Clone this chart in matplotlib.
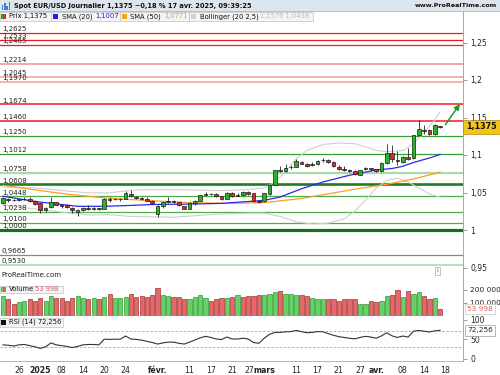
import numpy as np
import pandas as pd
import matplotlib
matplotlib.use("Agg")
import matplotlib.pyplot as plt
import matplotlib.transforms as mtransforms
from matplotlib.patches import Rectangle
from matplotlib.lines import Line2D

plt.rcParams['font.family'] = ['DejaVu Sans']

# ---------------- data ----------------
holidays = ["2024-12-25", "2025-01-01"]
all_days = [d.strftime("%Y-%m-%d") for d in pd.bdate_range("2024-12-20", "2025-04-18")]
days = [d for d in all_days if d not in holidays]   # last entry (Apr 18) has no candle

opens = [1.0355, 1.0418, 1.0402, 1.0395, 1.0410, 1.0415, 1.0392, 1.0355, 1.0271, 1.0308,
         1.0369, 1.0336, 1.0327, 1.0299, 1.0238, 1.0271, 1.0290, 1.0285, 1.0294, 1.0285,
         1.0411, 1.0415, 1.0408, 1.0415, 1.0482, 1.0440, 1.0428, 1.0418, 1.0392, 1.0215,
         1.0317, 1.0378, 1.0385, 1.0369, 1.0317, 1.0285, 1.0364, 1.0392, 1.0467, 1.0485,
         1.0483, 1.0448, 1.0415, 1.0487, 1.0458, 1.0468, 1.0500, 1.0487, 1.0387, 1.0387,
         1.0477, 1.0600, 1.0795, 1.0781, 1.0835, 1.0840, 1.0903, 1.0885, 1.0865, 1.0880,
         1.0928, 1.0930, 1.0903, 1.0845, 1.0810, 1.0801, 1.0780, 1.0740, 1.0810, 1.0823,
         1.0810, 1.0788, 1.0889, 1.1021, 1.0935, 1.0903, 1.0977, 1.0955, 1.1262, 1.1335,
         1.1328, 1.1284, 1.1390]
highs = [1.0443, 1.0428, 1.0418, 1.0420, 1.0440, 1.0435, 1.0400, 1.0365, 1.0305, 1.0436,
         1.0380, 1.0345, 1.0335, 1.0305, 1.0280, 1.0310, 1.0330, 1.0305, 1.0300, 1.0425,
         1.0435, 1.0430, 1.0425, 1.0520, 1.0530, 1.0450, 1.0440, 1.0440, 1.0400, 1.0330,
         1.0375, 1.0440, 1.0395, 1.0375, 1.0325, 1.0370, 1.0400, 1.0470, 1.0505, 1.0500,
         1.0490, 1.0455, 1.0505, 1.0505, 1.0490, 1.0515, 1.0520, 1.0495, 1.0405, 1.0495,
         1.0615, 1.0800, 1.0850, 1.0880, 1.0860, 1.0945, 1.0925, 1.0895, 1.0905, 1.0935,
         1.0955, 1.0940, 1.0915, 1.0860, 1.0855, 1.0815, 1.0795, 1.0805, 1.0840, 1.0830,
         1.0820, 1.0905, 1.1140, 1.1130, 1.1056, 1.0985, 1.1087, 1.1270, 1.1469, 1.1394,
         1.1350, 1.1416, 1.1392]
lows = [1.0343, 1.0380, 1.0388, 1.0385, 1.0395, 1.0375, 1.0335, 1.0230, 1.0245, 1.0300,
        1.0330, 1.0300, 1.0300, 1.0224, 1.0190, 1.0260, 1.0265, 1.0270, 1.0265, 1.0280,
        1.0375, 1.0395, 1.0390, 1.0410, 1.0440, 1.0410, 1.0400, 1.0385, 1.0350, 1.0180,
        1.0300, 1.0355, 1.0365, 1.0320, 1.0280, 1.0280, 1.0340, 1.0385, 1.0460, 1.0470,
        1.0440, 1.0400, 1.0410, 1.0445, 1.0450, 1.0460, 1.0470, 1.0380, 1.0360, 1.0380,
        1.0470, 1.0595, 1.0770, 1.0775, 1.0810, 1.0835, 1.0880, 1.0845, 1.0850, 1.0870,
        1.0910, 1.0895, 1.0845, 1.0800, 1.0790, 1.0775, 1.0740, 1.0730, 1.0795, 1.0790,
        1.0775, 1.0775, 1.0880, 1.0911, 1.0867, 1.0890, 1.0933, 1.0945, 1.1250, 1.1284,
        1.1270, 1.1270, 1.1355]
closes = [1.0425, 1.0395, 1.0400, 1.0410, 1.0415, 1.0385, 1.0341, 1.0261, 1.0299, 1.0369,
          1.0336, 1.0322, 1.0308, 1.0261, 1.0271, 1.0299, 1.0285, 1.0290, 1.0275, 1.0411,
          1.0400, 1.0408, 1.0413, 1.0495, 1.0450, 1.0428, 1.0415, 1.0392, 1.0355, 1.0317,
          1.0369, 1.0392, 1.0372, 1.0327, 1.0285, 1.0364, 1.0392, 1.0467, 1.0485, 1.0483,
          1.0448, 1.0415, 1.0487, 1.0455, 1.0468, 1.0510, 1.0485, 1.0387, 1.0375, 1.0487,
          1.0600, 1.0795, 1.0790, 1.0826, 1.0837, 1.0917, 1.0885, 1.0858, 1.0875, 1.0926,
          1.0932, 1.0903, 1.0858, 1.0810, 1.0800, 1.0782, 1.0749, 1.0801, 1.0823, 1.0815,
          1.0788, 1.0898, 1.1030, 1.0942, 1.0915, 1.0977, 1.0950, 1.1262, 1.1341, 1.1325,
          1.1284, 1.1394, 1.1375]

volumes = [152000, 131000, 90000, 105000, 113000, 129000, 119000, 142000, 119000, 155000,
           137000, 142000, 119000, 142000, 150000, 142000, 131000, 142000, 131000, 145000,
           168000, 142000, 142000, 145000, 170000, 145000, 152000, 147000, 160000, 212000,
           160000, 152000, 145000, 145000, 134000, 134000, 147000, 160000, 142000, 116000,
           131000, 137000, 142000, 145000, 158000, 145000, 152000,
           155000, 158000, 158000, 173000, 181000, 191000, 173000, 173000, 165000, 160000,
           155000, 139000, 134000, 129000, 129000, 129000, 118000, 134000, 129000, 129000,
           95000, 90000, 118000, 105000, 118000, 152000, 160000, 199000, 145000, 194000,
           168000, 184000, 152000, 131000, 137000, 53998]
volume_dir = ("GRRGGRRRGGRRRRGGRGRGRGGGRRRRRRGGRRRGGGGRRRGRGRR"
              "RRGGGRGGGRRGGGRRRRRRGGRRGGRRGRGGRRGR")

rsi = [35, 34, 32, 35, 36, 33, 30, 26, 30, 40,
       35, 33, 31, 28, 31, 35, 36, 36, 35, 49.5,
       49, 49.5, 49.5, 57.6, 50, 49, 47, 44, 41, 37,
       40, 42, 42, 39, 37, 42, 47.5, 53, 56.8, 54,
       50, 48.6, 55, 50, 50, 52, 50, 41, 39, 52,
       62, 67, 67, 68.5, 69, 72, 69, 66, 67, 69,
       68.5, 64, 59.5, 56, 54, 52, 50.4, 54, 56.8, 55,
       52, 58, 66, 58, 54, 57.6, 55, 70, 72, 70,
       68, 71, 72.256]

sma20_idx = [0, 6, 14, 19, 23, 28, 35, 41, 49, 52, 56, 60, 65, 70, 73, 75, 77, 80, 82]
sma20_val = [1.0450, 1.0380, 1.0316, 1.0316, 1.0325, 1.0340, 1.0345, 1.0355, 1.0395, 1.0440,
             1.0550, 1.0640, 1.0730, 1.0800, 1.0820, 1.0850, 1.0900, 1.0960, 1.1007]
sma50_idx = [0, 6, 12, 20, 28, 35, 42, 49, 56, 62, 67, 72, 77, 82]
sma50_val = [1.0595, 1.0535, 1.0478, 1.0422, 1.0390, 1.0365, 1.0355, 1.0365, 1.0420, 1.0495,
             1.0555, 1.0610, 1.0680, 1.0771]
bbu_idx = [0, 6, 12, 16, 20, 24, 28, 35, 41, 46, 49, 51, 53, 55, 57, 60, 63, 66, 68, 70,
           72, 75, 77, 79, 81, 82]
bbu_val = [1.0575, 1.0560, 1.0520, 1.0495, 1.0495, 1.0530, 1.0540, 1.0535, 1.0525, 1.0540,
           1.0560, 1.0640, 1.0780, 1.0950, 1.1060, 1.1140, 1.1160, 1.1150, 1.1110, 1.1060,
           1.1045, 1.1060, 1.1150, 1.1300, 1.1470, 1.1576]
bbl_idx = [0, 6, 12, 16, 20, 24, 28, 32, 36, 41, 46, 49, 52, 55, 58, 61, 64, 66, 68, 70,
           72, 74, 76, 78, 80, 82]
bbl_val = [1.0335, 1.0280, 1.0230, 1.0200, 1.0205, 1.0180, 1.0175, 1.0170, 1.0190, 1.0215,
           1.0225, 1.0225, 1.0180, 1.0110, 1.0080, 1.0090, 1.0150, 1.0250, 1.0400, 1.0560,
           1.0660, 1.0690, 1.0640, 1.0560, 1.0480, 1.0438]

levels = [1.2625, 1.2533, 1.2465, 1.2214, 1.2045, 1.1970, 1.1674, 1.1460, 1.1250, 1.1012,
          1.0758, 1.0608, 1.0448, 1.0238, 1.0100, 1.0000, 0.9665, 0.9530]
level_labels = ["1,2625", "1,2533", "1,2465", "1,2214", "1,2045", "1,1970", "1,1674", "1,1460",
                "1,1250", "1,1012", "1,0758", "1,0608", "1,0448", "1,0238", "1,0100", "1,0000",
                "0,9665", "0,9530"]

price_ticks = [0.95, 1.0, 1.05, 1.1, 1.15, 1.2, 1.25]
price_tick_labels = ["0,95", "1", "1,05", "1,1", "1,15", "1,2", "1,25"]
vol_ticks = [100000, 200000]
vol_tick_labels = ["100 000", "200 000"]
rsi_ticks = [0, 50, 100]
rsi_tick_labels = ["0", "50", "100"]

tick_dates = ["2024-12-26", "2025-01-02", "2025-01-08", "2025-01-14", "2025-01-20", "2025-01-24",
              "2025-02-03", "2025-02-11", "2025-02-17", "2025-02-21", "2025-02-27", "2025-03-03",
              "2025-03-11", "2025-03-17", "2025-03-21", "2025-03-27", "2025-04-01", "2025-04-08",
              "2025-04-14", "2025-04-18"]
tick_text = ["26", "2025", "08", "14", "20", "24", "févr.", "11", "17", "21", "27", "mars",
             "11", "17", "21", "27", "avr.", "08", "14", "18"]
bold_ticks = ["2025", "févr.", "mars", "avr."]

last_price = 1.1375
# ---------------- styles ----------------
level_colors = ['#ee1c1c', '#ee1c1c', '#ee1c1c', '#f3a6a6', '#f3a6a6', '#f3a6a6', '#ee1c1c',
                '#ee1c1c', '#34a034', '#34a034', '#a9dba9', '#1e7d1e', '#4caf4c', '#4caf4c',
                '#4caf4c', '#17711b', '#4caf4c', '#a9dba9']
level_lw = [0.9, 0.9, 0.9, 1.4, 1.2, 1.2, 1.1, 1.1, 0.9, 0.9, 1.6, 1.9, 0.9, 0.9, 0.9, 2.3,
            0.9, 1.2]

W, H = 500, 375
def fx(x): return x / W
def fy(y): return 1 - y / H

RIGHT = 462.5
fig = plt.figure(figsize=(5, 3.75), dpi=100)
fig.patch.set_facecolor('white')
ax = fig.add_axes([0, fy(283), fx(RIGHT), (283 - 11) / H])
axv = fig.add_axes([0, fy(316), fx(RIGHT), 33 / H], sharex=ax)
axr = fig.add_axes([0, fy(361), fx(RIGHT), 45 / H], sharex=ax)

n = len(closes)
x = np.arange(n)
ax.set_xlim(-0.56, 86.2)

# ---- main panel ----
ax.set_ylim(1 - 53 / 750, 1 + 219 / 750)
for lv, lab, c, lw in zip(levels, level_labels, level_colors, level_lw):
    ax.axhline(lv, color=c, lw=lw, zorder=1)
    ax.text(0.004, lv + 0.0012, lab, transform=ax.get_yaxis_transform(), fontsize=5.0,
            color='#222222', va='bottom', ha='left', zorder=6)

ax.plot(bbu_idx, bbu_val, color='#cfcfcf', lw=0.8, zorder=2)
ax.plot(bbl_idx, bbl_val, color='#cfcfcf', lw=0.8, zorder=2)
ax.plot(sma50_idx, sma50_val, color='#f5a023', lw=0.9, zorder=2)
ax.plot(sma20_idx, sma20_val, color='#2a2ae8', lw=0.9, zorder=2)

o = np.array(opens); c = np.array(closes); hi = np.array(highs); lo = np.array(lows)
up = c >= o
ax.vlines(x, lo, hi, color='#222222', lw=0.6, zorder=3)
body_bottom = np.minimum(o, c)
body_h = np.maximum(np.abs(c - o), 0.00025)
fills = np.where(up, '#25b525', '#e82626')
ax.bar(x, body_h, bottom=body_bottom, width=0.7, color=fills, edgecolor='#1a1a1a',
       linewidth=0.5, zorder=4)

ax.annotate('', xy=(86.0, 1.171), xytext=(82.7, 1.1375),
            arrowprops=dict(arrowstyle='-|>', color='#1f9a2a', lw=1.1, mutation_scale=8),
            zorder=5, annotation_clip=False)

ax.yaxis.tick_right()
ax.set_yticks(price_ticks, price_tick_labels)
ax.tick_params(axis='y', length=3, width=0.5, color='#777777', labelsize=5.5, pad=2.5,
               labelcolor='#222222')
ax.tick_params(axis='x', bottom=False, labelbottom=False)
ax.text(1.008, last_price, "1,1375", transform=ax.get_yaxis_transform(), fontsize=5.8,
        fontweight='bold', va='center', ha='left', color='#111111', clip_on=False, zorder=10,
        bbox=dict(boxstyle='square,pad=0.35', fc='#f4c419', ec='#b38a10', lw=0.5))
ax.text(0.003, 0.02, "ProRealTime.com", transform=ax.transAxes, fontsize=5.0, color='#222222',
        va='bottom', ha='left')
ax.text(0.945, 0.035, "i", transform=ax.transAxes, fontsize=4.5, color='#555555', ha='center',
        va='bottom', bbox=dict(boxstyle='square,pad=0.25', fc='white', ec='#aaaaaa', lw=0.5))

# ---- volume panel ----
vcols = ['#66d266' if d == 'G' else '#e36a6a' for d in volume_dir]
vedges = ['#2f9a2f' if d == 'G' else '#a83232' for d in volume_dir]
axv.bar(x, volumes, width=0.78, color=vcols, edgecolor=vedges, linewidth=0.5, zorder=3)
axv.set_ylim(0, 253800)
axv.yaxis.tick_right()
axv.set_yticks(vol_ticks, vol_tick_labels)
axv.tick_params(axis='y', length=3, width=0.5, color='#777777', labelsize=5.3, pad=2.5,
                labelcolor='#222222')
axv.tick_params(axis='x', bottom=False, labelbottom=False)
axv.text(1.01, volumes[-1], "53 998", transform=axv.get_yaxis_transform(), fontsize=5.3,
         va='center', ha='left', color='#e05a5a', clip_on=False, zorder=10,
         bbox=dict(boxstyle='square,pad=0.3', fc='white', ec='#c8c8c8', lw=0.5))

# ---- RSI panel ----
axr.plot(x, rsi, color='#333333', lw=0.8, zorder=3)
for lvl in (70, 30):
    axr.axhline(lvl, color='#aaaaaa', lw=0.6, ls=(0, (3, 2)), zorder=1)
axr.set_ylim(-6.4, 109)
axr.yaxis.tick_right()
axr.set_yticks(rsi_ticks, rsi_tick_labels)
axr.tick_params(axis='y', length=3, width=0.5, color='#777777', labelsize=5.5, pad=2.5,
                labelcolor='#222222')
axr.text(1.01, rsi[-1], "72,256", transform=axr.get_yaxis_transform(), fontsize=5.3,
         va='center', ha='left', color='#222222', clip_on=False, zorder=10,
         bbox=dict(boxstyle='square,pad=0.3', fc='white', ec='#999999', lw=0.5))
tick_pos = [days.index(d) for d in tick_dates]
axr.set_xticks(tick_pos, tick_text)
axr.tick_params(axis='x', length=0, labelsize=5.6, pad=3.5, labelcolor='#222222')
for i, lab in enumerate(axr.get_xticklabels()):
    if lab.get_text() in bold_ticks:
        lab.set_fontweight('bold')
    if tick_dates[i] == "2025-02-27":
        lab.set_transform(lab.get_transform() +
                          mtransforms.ScaledTranslation(-4 / 100, 0, fig.dpi_scale_trans))

for a in (ax, axv, axr):
    a.set_facecolor('white')
    for s in ('top', 'left'):
        a.spines[s].set_visible(False)
    a.spines['right'].set_color('#999999')
    a.spines['right'].set_linewidth(0.6)
    a.spines['bottom'].set_color('#aaaaaa')
    a.spines['bottom'].set_linewidth(0.6)

# ---- header ----
fig.add_artist(Rectangle((0, fy(11)), 1, 11 / H, transform=fig.transFigure, fc='#dde5ed',
                         ec='none', zorder=0))
fig.add_artist(Line2D([0, 1], [fy(11), fy(11)], transform=fig.transFigure, color='#a9b6c2',
                      lw=0.6))
for i, hgt in enumerate([4, 6, 3, 7]):
    fig.add_artist(Rectangle((fx(2 + i * 2.2), fy(9.5)), fx(1.4), hgt / H,
                             transform=fig.transFigure, fc='#3d7fd6', ec='none'))
fig.text(fx(14), fy(5.6), "Spot EUR/USD Journalier 1,1375 \u22120,18 % 17 avr. 2025, 09:39:25",
         fontsize=4.75, fontweight='bold', color='#111111', va='center', ha='left')
fig.text(fx(497), fy(5.6), "www.ProRealTime.com", fontsize=4.6, fontweight='bold',
         color='#111111', va='center', ha='right')

# ---- legend row ----
def box(x0, x1, y0=12, y1=20.5):
    fig.add_artist(Rectangle((fx(x0), fy(y1)), fx(x1 - x0), (y1 - y0) / H,
                             transform=fig.transFigure, fc='#f4f4f4', ec='#c2c2c2', lw=0.5,
                             zorder=5))

def sq(x0, color, y=16.2, size=5.2):
    fig.add_artist(Rectangle((fx(x0), fy(y + size / 2)), fx(size), size / H,
                             transform=fig.transFigure, fc=color, ec='none', zorder=6))

box(0, 51); box(51, 120); box(120, 189); box(189, 313)
sq(0.5, '#2ea52e', size=5.2)
fig.add_artist(Rectangle((fx(3.1), fy(18.8)), fx(2.6), 5.2 / H, transform=fig.transFigure,
                         fc='#e32b2b', ec='none', zorder=6))
sq(53, '#1f1fe0'); sq(121.5, '#f7a21f'); sq(190.5, '#d2d2d2')
ty = fy(16.3)
fig.text(fx(9), ty, "Prix 1,1375", fontsize=4.9, va='center', color='#111111', zorder=7)
fig.text(fx(61.5), ty, "SMA (20)", fontsize=4.9, va='center', color='#111111', zorder=7)
fig.text(fx(95), ty, "1,1007", fontsize=4.9, va='center', color='#2020e0', zorder=7)
fig.text(fx(130), ty, "SMA (50)", fontsize=4.9, va='center', color='#111111', zorder=7)
fig.text(fx(164), ty, "1,0771", fontsize=4.9, va='center', color='#f39a1e', zorder=7)
fig.text(fx(200), ty, "Bollinger (20 2,5)", fontsize=4.9, va='center', color='#111111', zorder=7)
fig.text(fx(260), ty, "1,1576 1,0438", fontsize=4.9, va='center', color='#bdbdbd', zorder=7)

# volume legend
box(0, 63, 285.5, 292.8)
fig.add_artist(Rectangle((fx(1), fy(291.5)), fx(2.4), 5 / H, transform=fig.transFigure,
                         fc='#55cc55', ec='none', zorder=6))
fig.add_artist(Rectangle((fx(3.4), fy(291.5)), fx(2.4), 5 / H, transform=fig.transFigure,
                         fc='#e06060', ec='none', zorder=6))
fig.text(fx(9), fy(289.2), "Volume", fontsize=4.9, va='center', color='#111111', zorder=7)
fig.text(fx(35), fy(289.2), "53 998", fontsize=4.9, va='center', color='#e05a5a', zorder=7)

# RSI legend
box(0, 63, 317.5, 326.5)
fig.add_artist(Rectangle((fx(1), fy(324.5)), fx(5), 5 / H, transform=fig.transFigure,
                         fc='#111111', ec='none', zorder=6))
fig.text(fx(9), fy(322), "RSI (14) 72,256", fontsize=4.9, va='center', color='#111111',
         zorder=7)

fig.savefig("out.png", dpi=100)
